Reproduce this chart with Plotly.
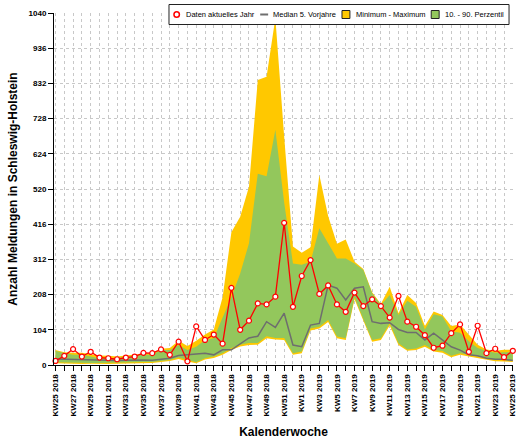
import plotly.graph_objects as go

weeks = ["KW25 2018", "KW26 2018", "KW27 2018", "KW28 2018", "KW29 2018", "KW30 2018",
         "KW31 2018", "KW32 2018", "KW33 2018", "KW34 2018", "KW35 2018", "KW36 2018",
         "KW37 2018", "KW38 2018", "KW39 2018", "KW40 2018", "KW41 2018", "KW42 2018",
         "KW43 2018", "KW44 2018", "KW45 2018", "KW46 2018", "KW47 2018", "KW48 2018",
         "KW49 2018", "KW50 2018", "KW51 2018", "KW52 2018", "KW1 2019", "KW2 2019",
         "KW3 2019", "KW4 2019", "KW5 2019", "KW6 2019", "KW7 2019", "KW8 2019",
         "KW9 2019", "KW10 2019", "KW11 2019", "KW12 2019", "KW13 2019", "KW14 2019",
         "KW15 2019", "KW16 2019", "KW17 2019", "KW18 2019", "KW19 2019", "KW20 2019",
         "KW21 2019", "KW22 2019", "KW23 2019", "KW24 2019", "KW25 2019"]

actual = [12, 27, 47, 25, 39, 22, 20, 17, 22, 25,
          36, 35, 46, 30, 69, 11, 114, 74, 90, 63,
          228, 104, 131, 182, 179, 202, 420, 172, 263, 310,
          210, 235, 179, 157, 214, 174, 194, 174, 140, 204,
          128, 113, 88, 51, 57, 94, 120, 39, 116, 35,
          48, 23, 42]

median5 = [18, 17, 16, 15, 14, 14, 13, 13, 14, 15,
           15, 14, 16, 20, 28, 30, 33, 35, 30, 45,
           45, 62, 80, 85, 128, 111, 153, 59, 54, 118,
           123, 236, 227, 192, 227, 231, 128, 123, 125, 105,
           96, 96, 74, 94, 74, 54, 44, 30, 27, 20,
           17, 17, 13]

minimum = [5, 4, 3, 3, 4, 3, 3, 4, 4, 5,
           6, 6, 9, 12, 18, 10, 5, 16, 21, 30,
           44, 55, 59, 60, 79, 75, 74, 30, 35, 102,
           108, 127, 79, 74, 194, 130, 69, 74, 117, 59,
           42, 44, 54, 40, 36, 23, 30, 25, 21, 16,
           11, 10, 9]

maximum = [44, 38, 36, 36, 32, 28, 27, 25, 28, 30,
           34, 36, 48, 50, 72, 56, 72, 90, 105, 200,
           392, 438, 527, 842, 852, 1025, 675, 350, 332, 348,
           561, 440, 358, 371, 305, 284, 215, 180, 231, 153,
           207, 183, 115, 158, 148, 115, 120, 90, 60, 46,
           42, 45, 45]

p10 = [8, 7, 6, 6, 6, 6, 6, 7, 7, 8,
       9, 9, 12, 15, 22, 14, 8, 20, 25, 35,
       50, 60, 65, 65, 85, 80, 80, 35, 40, 108,
       113, 133, 84, 79, 200, 136, 74, 79, 123, 64,
       46, 49, 59, 44, 41, 27, 35, 30, 25, 20,
       15, 15, 13]

p90 = [41, 35, 30, 30, 25, 20, 20, 20, 25, 28,
       30, 30, 44, 44, 59, 44, 54, 74, 79, 140,
       200, 270, 360, 565, 558, 695, 480, 300, 296, 305,
       404, 360, 315, 315, 300, 281, 212, 177, 207, 148,
       190, 172, 105, 150, 143, 100, 95, 70, 50, 42,
       36, 38, 38]

y_ticks = [0, 104, 208, 312, 416, 520, 624, 728, 832, 936, 1040]
legend_labels = ["Daten aktuelles Jahr", "Median 5. Vorjahre", "Minimum - Maximum", "10. - 90. Perzentil"]

YELLOW = "#FFC800"
GREEN = "#93C75C"
FONT = "Liberation Sans, Arial, sans-serif"

fig = go.Figure()
fig.add_trace(go.Scatter(x=weeks, y=minimum, mode="lines", line=dict(width=0, color=YELLOW),
                         showlegend=False, hoverinfo="skip"))
fig.add_trace(go.Scatter(x=weeks, y=maximum, mode="lines", line=dict(width=0, color=YELLOW),
                         fill="tonexty", fillcolor=YELLOW, showlegend=False))
fig.add_trace(go.Scatter(x=weeks, y=p10, mode="lines", line=dict(width=0, color=GREEN),
                         showlegend=False, hoverinfo="skip"))
fig.add_trace(go.Scatter(x=weeks, y=p90, mode="lines", line=dict(width=0, color=GREEN),
                         fill="tonexty", fillcolor=GREEN, showlegend=False))
fig.add_trace(go.Scatter(x=weeks, y=median5, mode="lines", line=dict(width=1.5, color="#6E6E6E"),
                         showlegend=False))
fig.add_trace(go.Scatter(x=weeks, y=actual, mode="lines+markers",
                         line=dict(width=1.3, color="#FF0000"),
                         marker=dict(symbol="circle", size=5, color="white",
                                     line=dict(color="#FF0000", width=1.2)),
                         showlegend=False, cliponaxis=False))

L, T, W, H = 54, 13, 463, 352


def px(xp):
    return (xp - L) / W


def py(yp):
    return (T + H - yp) / H


shapes = [
    dict(type="rect", xref="paper", yref="paper", x0=px(170), x1=px(513), y0=py(24.5), y1=py(4.5),
         line=dict(color="#222222", width=1), fillcolor="white", layer="above"),
    dict(type="circle", xref="paper", yref="paper", x0=px(175), x1=px(180.5), y0=py(17.3), y1=py(11.8),
         line=dict(color="#FF0000", width=1.5), fillcolor="white", layer="above"),
    dict(type="line", xref="paper", yref="paper", x0=px(262), x1=px(270), y0=py(14.5), y1=py(14.5),
         line=dict(color="#6E6E6E", width=2), layer="above"),
    dict(type="rect", xref="paper", yref="paper", x0=px(344.5), x1=px(352.5), y0=py(18.5), y1=py(10.5),
         line=dict(color="#222222", width=1), fillcolor=YELLOW, layer="above"),
    dict(type="rect", xref="paper", yref="paper", x0=px(434.5), x1=px(442.5), y0=py(18.5), y1=py(10.5),
         line=dict(color="#222222", width=1), fillcolor=GREEN, layer="above"),
]
text_x = [185.5, 273, 356.5, 446]
annotations = [
    dict(text=t, xref="paper", yref="paper", x=px(xx), y=py(14.5), xanchor="left", yanchor="middle",
         showarrow=False, font=dict(family=FONT, size=7.5, color="black"))
    for t, xx in zip(legend_labels, text_x)
]

ticktext = [w if i % 2 == 0 else "" for i, w in enumerate(weeks)]

fig.update_layout(
    width=517, height=440,
    margin=dict(l=L, r=517 - L - W, t=T, b=440 - T - H, pad=0),
    paper_bgcolor="white", plot_bgcolor="white",
    showlegend=False,
    shapes=shapes, annotations=annotations,
    xaxis=dict(type="category", tickmode="array", tickvals=weeks, ticktext=ticktext,
               range=[-0.17, 52.02], tickangle=-90,
               tickfont=dict(family=FONT, size=8, color="black", weight="bold"),
               ticks="outside", ticklen=5, tickcolor="black",
               showline=True, linecolor="black", linewidth=1,
               showgrid=True, gridcolor="#C8C8C8", griddash="dot", gridwidth=1,
               title=dict(text="Kalenderwoche", standoff=12,
                          font=dict(family=FONT, size=12, color="black", weight="bold"))),
    yaxis=dict(range=[0, 1040], tickmode="array", tickvals=y_ticks,
               tickfont=dict(family=FONT, size=8, color="black", weight="bold"),
               ticks="outside", ticklen=5, tickcolor="black",
               showline=True, linecolor="black", linewidth=1,
               showgrid=True, gridcolor="#C8C8C8", griddash="dot", gridwidth=1,
               zeroline=False,
               title=dict(text="Anzahl Meldungen in Schleswig-Holstein", standoff=8,
                          font=dict(family=FONT, size=12, color="black", weight="bold"))),
)

fig.write_html("out.html", config={"displayModeBar": False},
               post_script="document.body.style.margin='0px';document.body.style.overflow='hidden';")
